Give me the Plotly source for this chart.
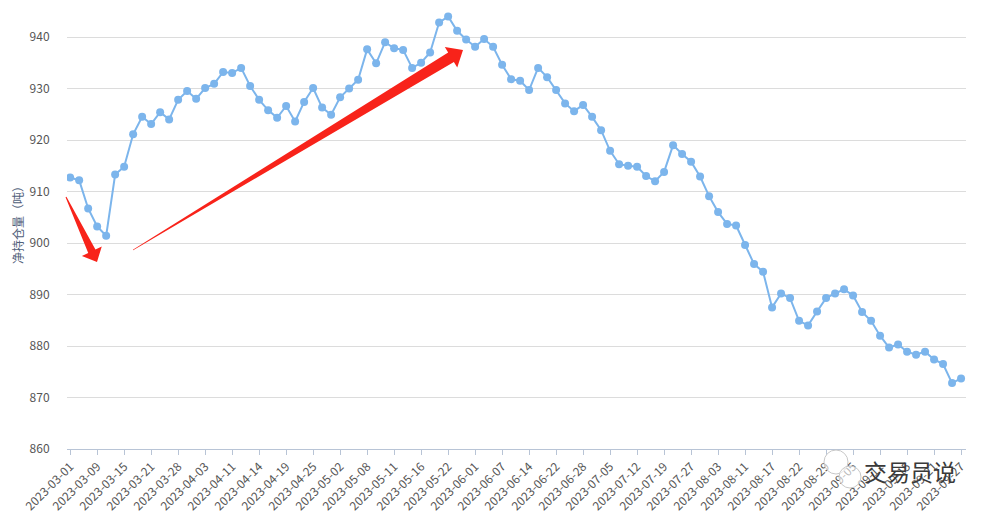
import plotly.graph_objects as go

dates = [
    "2023-03-01", "2023-03-03", "2023-03-07", "2023-03-09", "2023-03-10", "2023-03-13",
    "2023-03-15", "2023-03-17", "2023-03-20", "2023-03-21", "2023-03-23", "2023-03-24",
    "2023-03-28", "2023-03-29", "2023-03-31", "2023-04-03", "2023-04-06", "2023-04-10",
    "2023-04-11", "2023-04-12", "2023-04-13", "2023-04-14", "2023-04-17", "2023-04-18",
    "2023-04-19", "2023-04-21", "2023-04-24", "2023-04-25", "2023-04-26", "2023-04-28",
    "2023-05-02", "2023-05-04", "2023-05-05", "2023-05-08", "2023-05-09", "2023-05-10",
    "2023-05-11", "2023-05-12", "2023-05-15", "2023-05-16", "2023-05-18", "2023-05-19",
    "2023-05-22", "2023-05-25", "2023-05-30", "2023-06-01", "2023-06-02", "2023-06-06",
    "2023-06-07", "2023-06-09", "2023-06-12", "2023-06-14", "2023-06-16", "2023-06-20",
    "2023-06-22", "2023-06-26", "2023-06-27", "2023-06-28", "2023-06-30", "2023-07-03",
    "2023-07-05", "2023-07-07", "2023-07-10", "2023-07-12", "2023-07-14", "2023-07-17",
    "2023-07-19", "2023-07-21", "2023-07-25", "2023-07-27", "2023-07-28", "2023-08-01",
    "2023-08-03", "2023-08-07", "2023-08-09", "2023-08-11", "2023-08-14", "2023-08-16",
    "2023-08-17", "2023-08-18", "2023-08-21", "2023-08-22", "2023-08-24", "2023-08-28",
    "2023-08-29", "2023-08-31", "2023-09-04", "2023-09-05", "2023-09-07", "2023-09-08",
    "2023-09-11", "2023-09-12", "2023-09-13", "2023-09-15", "2023-09-18", "2023-09-19",
    "2023-09-21", "2023-09-25", "2023-09-26", "2023-09-27",
]

net_position = [
    912.7, 912.2, 906.7, 903.2, 901.4, 913.3, 914.8, 921.1, 924.5, 923.1,
    925.4, 924.0, 927.8, 929.5, 928.0, 930.1, 930.9, 933.2, 933.0, 934.0,
    930.5, 927.8, 925.8, 924.3, 926.6, 923.6, 927.4, 930.1, 926.3, 924.9,
    928.3, 930.0, 931.7, 937.6, 934.9, 939.0, 937.8, 937.5, 934.0, 935.0,
    937.0, 942.8, 944.0, 941.2, 939.5, 938.1, 939.6, 938.1, 934.6, 931.8,
    931.5, 929.7, 934.0, 932.2, 929.7, 927.1, 925.6, 926.8, 924.5, 921.9,
    917.9, 915.3, 915.0, 914.8, 913.0, 912.0, 913.8, 919.0, 917.3, 915.8,
    912.9, 909.1, 906.0, 903.7, 903.4, 899.6, 895.9, 894.4, 887.5, 890.2,
    889.3, 884.9, 884.0, 886.7, 889.3, 890.2, 891.0, 889.8, 886.6, 884.9,
    882.0, 879.7, 880.3, 878.9, 878.3, 878.9, 877.4, 876.5, 872.8, 873.7,
]

tick_labels = dates[::3]
y_ticks = [860, 870, 880, 890, 900, 910, 920, 930, 940]

# the page places the figure 8px from the top-left corner (body margin)
OFF = 8
W, H = 988 - OFF, 517 - OFF
PLOT_L, PLOT_R, PLOT_T, PLOT_B = 67, 966, OFF, 449  # page pixels
ML = PLOT_L - OFF
MR = W - (PLOT_R - OFF)
MT = 0
MB = H - (PLOT_B - OFF)
PW, PH = PLOT_R - PLOT_L, PLOT_B - PLOT_T
PX_PER_UNIT = 5.15

FONT = "Microsoft YaHei, Noto Sans CJK SC, sans-serif"
LINE = "#7CB5EC"
RED = "#F8231A"


def px2paper(x, y):
    """page pixel -> paper coordinates"""
    return (x - PLOT_L) / PW, (PLOT_B - y) / PH


def arrow_path(tail, tip, tail_w, shaft_w, head_len, head_w):
    import math
    dx, dy = tip[0] - tail[0], tip[1] - tail[1]
    L = math.hypot(dx, dy)
    ux, uy = dx / L, dy / L
    nx, ny = -uy, ux
    bx, by = tip[0] - ux * head_len, tip[1] - uy * head_len
    pts = [
        (tail[0] + nx * tail_w / 2, tail[1] + ny * tail_w / 2),
        (bx + nx * shaft_w / 2, by + ny * shaft_w / 2),
        (bx + nx * head_w / 2, by + ny * head_w / 2),
        tip,
        (bx - nx * head_w / 2, by - ny * head_w / 2),
        (bx - nx * shaft_w / 2, by - ny * shaft_w / 2),
        (tail[0] - nx * tail_w / 2, tail[1] - ny * tail_w / 2),
    ]
    pp = [px2paper(*p) for p in pts]
    return "M " + " L ".join(f"{a:.5f},{b:.5f}" for a, b in pp) + " Z"


fig = go.Figure()
fig.add_trace(go.Scatter(
    x=dates, y=net_position, mode="lines+markers",
    line=dict(color=LINE, width=2),
    marker=dict(color=LINE, size=8),
    hoverinfo="x+y",
))

shapes = [
    dict(type="path", xref="paper", yref="paper",
         path=arrow_path((66, 197), (97, 262), 1, 8, 12, 22),
         fillcolor=RED, line=dict(width=0), layer="above"),
    dict(type="path", xref="paper", yref="paper",
         path=arrow_path((133, 250), (463, 50), 0.5, 11, 14, 24),
         fillcolor=RED, line=dict(width=0), layer="above"),
]
# watermark icon (two speech bubbles)
for cx, cy, r in [(836, 462, 12), (850, 477, 11)]:
    x0, y0 = px2paper(cx - r, cy + r)
    x1, y1 = px2paper(cx + r, cy - r)
    shapes.append(dict(type="circle", xref="paper", yref="paper",
                       x0=x0, y0=y0, x1=x1, y1=y1,
                       line=dict(color="#C8C8C8", width=1),
                       fillcolor="rgba(255,255,255,0.6)", layer="above"))

wx, wy = px2paper(910, 471)
tx, ty = px2paper(17, 222)
annotations = [
    dict(text="交易员说", xref="paper", yref="paper", x=wx, y=wy,
         showarrow=False, font=dict(family=FONT, size=23, color="#3A3A3A"),
         xanchor="center", yanchor="middle"),
    dict(text="净持仓量（吨）", xref="paper", yref="paper", x=tx, y=ty,
         showarrow=False, textangle=-90,
         font=dict(family=FONT, size=12, color="#50607A"),
         xanchor="center", yanchor="middle"),
]

fig.update_layout(
    width=W, height=H,
    margin=dict(l=ML, r=MR, t=MT, b=MB, autoexpand=False),
    paper_bgcolor="white", plot_bgcolor="white",
    showlegend=False,
    font=dict(family=FONT, size=12, color="#555"),
    shapes=shapes,
    annotations=annotations,
    xaxis=dict(
        type="category",
        range=[-0.35, 99.55],
        tickmode="array", tickvals=tick_labels, ticktext=tick_labels,
        tickangle=-45, automargin=False,
        ticks="outside", ticklen=5, tickcolor="#B8C4D6",
        showline=True, linecolor="#B8C4D6", linewidth=1,
        showgrid=False, zeroline=False,
        tickfont=dict(family=FONT, size=12, color="#555"),
    ),
    yaxis=dict(
        range=[860, 860 + PH / PX_PER_UNIT],
        tickmode="array", tickvals=y_ticks, automargin=False,
        showgrid=True, gridcolor="#DCDCDC", gridwidth=1,
        zeroline=False, showline=False,
        ticks="outside", ticklen=14, tickcolor="rgba(0,0,0,0)",
        tickfont=dict(family=FONT, size=12, color="#555"),
    ),
)

fig.write_html("out.html")
